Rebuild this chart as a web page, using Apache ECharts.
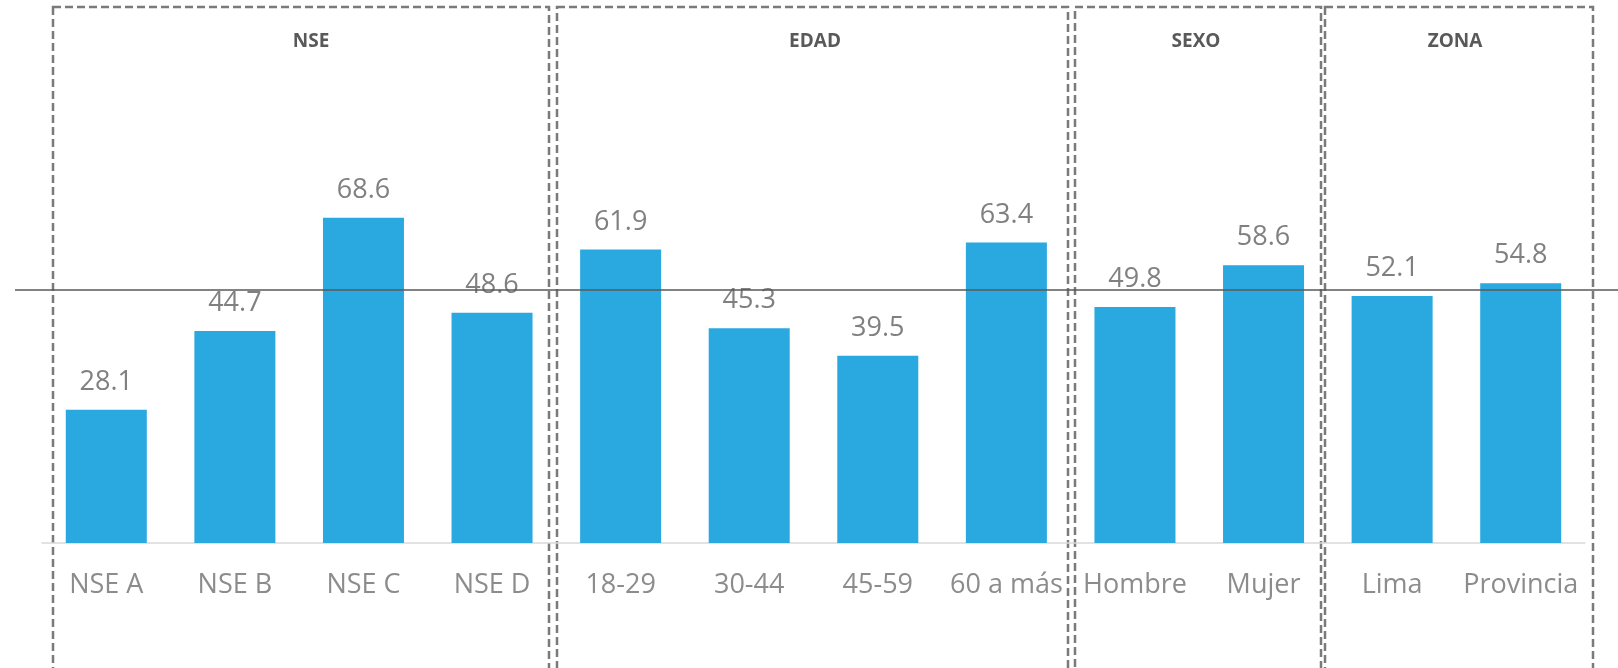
<!DOCTYPE html>
<html>
<head>
<meta charset="utf-8">
<script src="https://cdn.jsdelivr.net/npm/echarts@6/dist/echarts.min.js"></script>
<style>
	html,body{margin:0;padding:0;background:#fff;}
	#main{width:1618px;height:668px;}
</style>
</head>
<body>
<div id="main"></div>
<script>
//数据
var categorias = ['NSE A', 'NSE B', 'NSE C', 'NSE D', '18-29', '30-44', '45-59', '60 a más', 'Hombre', 'Mujer', 'Lima', 'Provincia'];
var valores = [28.1, 44.7, 68.6, 48.6, 61.9, 45.3, 39.5, 63.4, 49.8, 58.6, 52.1, 54.8];
var grupos = ['NSE', 'EDAD', 'SEXO', 'ZONA'];
var promedio = 53.5;

//虚线框的位置 (左, 右) 和标题的x
var cajas = [[53, 549], [557, 1068], [1075, 1321], [1325, 1593]];
var titulosX = [311, 815, 1196, 1455];

var myChart = echarts.init(document.getElementById('main'));

var graficos = [];
for (var i = 0; i < cajas.length; i++) {
	graficos.push({
		type: 'rect',
		silent: true,
		shape: {x: cajas[i][0], y: 7, width: cajas[i][1] - cajas[i][0], height: 720},
		style: {fill: 'none', stroke: '#7a7a7a', lineWidth: 2.5, lineDash: [8, 4]}
	});
	graficos.push({
		type: 'text',
		silent: true,
		style: {
			x: titulosX[i], y: 42,
			text: grupos[i],
			textAlign: 'center',
			textVerticalAlign: 'middle',
			fill: '#595959',
			font: 'bold 19px "Open Sans"'
		}
	});
}

var option = {
	animation: false,
	grid: [
		{left: 42, right: 33, top: 69, bottom: 125},
		{left: 15, right: 0, top: 69, bottom: 125} //平均线用
	],
	xAxis: [{
		type: 'category',
		gridIndex: 0,
		data: categorias,
		axisTick: {show: false},
		axisLine: {lineStyle: {color: '#d9d9d9', width: 1.5}},
		axisLabel: {interval: 0, color: '#8c8c8c', fontSize: 27, fontFamily: 'Open Sans', margin: 29}
	}, {
		type: 'category',
		gridIndex: 1,
		data: [''],
		show: false
	}],
	yAxis: [
		{type: 'value', gridIndex: 0, min: 0, max: 100, show: false},
		{type: 'value', gridIndex: 1, min: 0, max: 100, show: false}
	],
	series: [{
		type: 'bar',
		data: valores,
		barCategoryGap: '37%',
		itemStyle: {color: '#29a9e0'},
		label: {
			show: true,
			position: 'top',
			distance: 14,
			color: '#808080',
			fontSize: 27,
			fontFamily: 'Open Sans',
			formatter: function(p) {
				return p.value.toFixed(1);
			}
		}
	}, {
		type: 'line',
		xAxisIndex: 1,
		yAxisIndex: 1,
		data: [promedio],
		showSymbol: false,
		lineStyle: {width: 0},
		markLine: {
			silent: true,
			symbol: 'none',
			label: {show: false},
			lineStyle: {color: '#595959', width: 1.5, type: 'solid'},
			data: [{yAxis: promedio}]
		}
	}],
	graphic: graficos
};
myChart.setOption(option);
</script>
</body>
</html>
